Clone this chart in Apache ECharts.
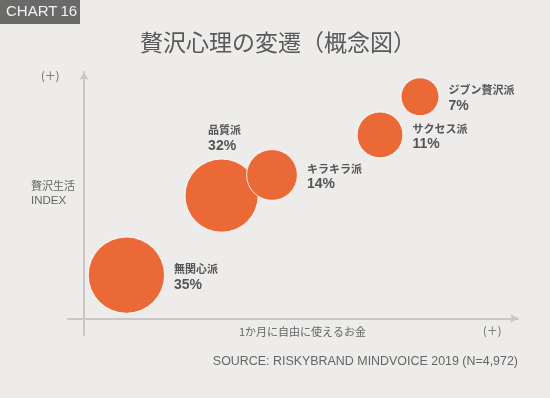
<!DOCTYPE html>
<html>
<head>
<meta charset="utf-8">
<script src="https://cdn.jsdelivr.net/npm/echarts@6/dist/echarts.min.js"></script>
<style>
html, body { margin: 0; padding: 0; background: #edecea; }
#main { width: 550px; height: 398px; }
</style>
</head>
<body>
<div id="main"></div>
<script>
// 各タイプの名前・構成比・位置（概念図なので軸の値は相対位置）
var groups = ['無関心派', '品質派', 'キラキラ派', 'サクセス派', 'ジブン贅沢派'];
var shares = [35, 32, 14, 11, 7];
var moneyX = [10.6, 34.4, 47, 74, 84];
var luxuryY = [15.5, 44.1, 51.5, 65.9, 79.6];

var FONT = '"Noto Sans CJK JP", "Liberation Sans", sans-serif';
var myChart = echarts.init(document.getElementById('main'));

var data = groups.map(function (g, i) {
    var item = { name: g, value: [moneyX[i], luxuryY[i], shares[i]] };
    if (g === '品質派') {
        item.label = { position: 'top', distance: 4, offset: [3, 0] };
    }
    return item;
});

var option = {
    backgroundColor: '#edecea',
    textStyle: { fontFamily: FONT },
    grid: { left: 68, right: 32, top: 72, bottom: 63 },
    xAxis: {
        type: 'value',
        min: -4,
        max: 108.5,
        axisLine: {
            onZero: true,
            symbol: ['none', 'arrow'],
            symbolSize: [7, 8],
            lineStyle: { color: '#c9c8c6', width: 2 }
        },
        axisTick: { show: false },
        axisLabel: { show: false },
        splitLine: { show: false }
    },
    yAxis: {
        type: 'value',
        min: -6,
        max: 88.5,
        axisLine: {
            onZero: true,
            symbol: ['none', 'arrow'],
            symbolSize: [7, 8],
            lineStyle: { color: '#c9c8c6', width: 2 }
        },
        axisTick: { show: false },
        axisLabel: { show: false },
        splitLine: { show: false }
    },
    graphic: [
        { type: 'rect', left: 0, top: 0, shape: { width: 80, height: 24 }, style: { fill: '#6a6a69' } },
        { type: 'text', left: 6, top: 4, style: { text: 'CHART\u200916', fill: '#f2f2f2', font: '15px "Liberation Sans", sans-serif' } },
        { type: 'text', left: 140, top: 31, style: { text: '贅沢心理の変遷（概念図）', fill: '#595959', font: '23px ' + FONT } },
        { type: 'text', left: 41, top: 70, style: { text: '(＋)', fill: '#666', font: '11px ' + FONT } },
        { type: 'text', left: 31, top: 180, style: { text: '贅沢生活', fill: '#666', font: '11px ' + FONT } },
        { type: 'text', left: 31, top: 195, style: { text: 'INDEX', fill: '#666', font: '11.5px "Liberation Sans", sans-serif' } },
        { type: 'text', left: 239, top: 326, style: { text: '1か月に自由に使えるお金', fill: '#666', font: '11px ' + FONT } },
        { type: 'text', left: 483, top: 325, style: { text: '(＋)', fill: '#666', font: '11px ' + FONT } },
        { type: 'text', right: 32, top: 356, style: { text: 'SOURCE: RISKYBRAND MINDVOICE 2019 (N=4,972)', fill: '#666', font: '12.45px "Liberation Sans", sans-serif' } }
    ],
    series: [{
        type: 'scatter',
        data: data,
        symbolSize: function (val) {
            return Math.sqrt(val[2]) * 11.7 + 7;
        },
        itemStyle: {
            color: '#eb6937',
            borderColor: 'rgba(255,255,255,0.85)',
            borderWidth: 1,
            opacity: 1
        },
        label: {
            show: true,
            position: 'right',
            distance: 9,
            offset: [0, 2],
            formatter: function (p) {
                return '{a|' + p.name + '}\n{b|' + p.value[2] + '%}';
            },
            rich: {
                a: { fontSize: 11, fontWeight: 'bold', color: '#555', fontFamily: FONT, lineHeight: 15, align: 'left' },
                b: { fontSize: 14, fontWeight: 'bold', color: '#555', fontFamily: '"Liberation Sans", sans-serif', lineHeight: 17, align: 'left' }
            }
        },
        emphasis: { disabled: true }
    }]
};
myChart.setOption(option);
</script>
</body>
</html>
